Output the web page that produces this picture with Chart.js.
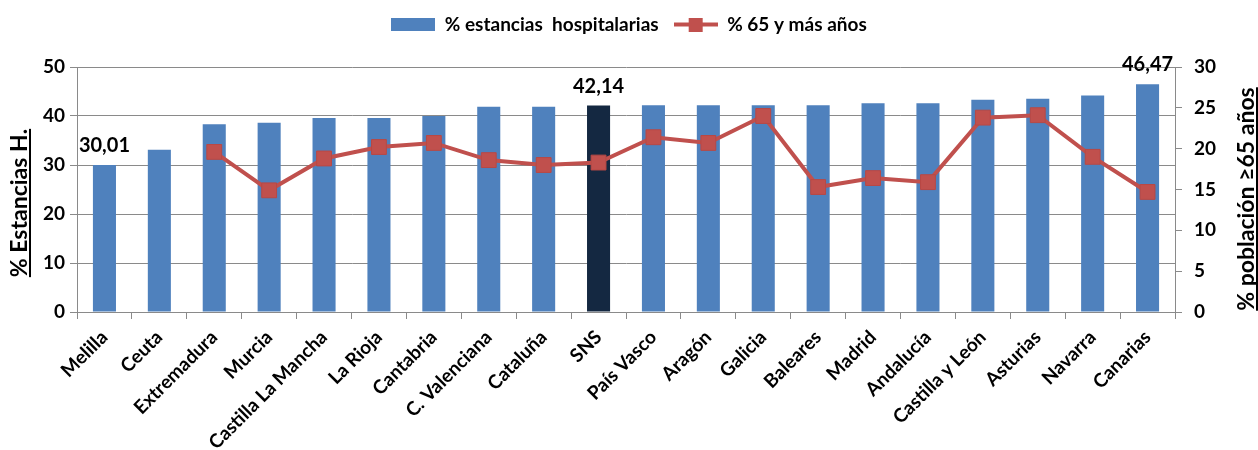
<!DOCTYPE html>
<html lang="es">
<head>
<meta charset="utf-8">
<title>Estancias hospitalarias y población de 65 y más años</title>
<script src="https://cdn.jsdelivr.net/npm/chart.js@4"></script>
<style>
  html, body { margin: 0; padding: 0; background: #fff; }
  #wrap { width: 1258px; height: 450px; position: relative; }
</style>
</head>
<body>
<div id="wrap"><canvas id="estanciasChart"></canvas></div>
<script>
// categorías (CCAA ordenadas por % estancias)
const categorias = [
    'Melilla', 'Ceuta', 'Extremadura', 'Murcia', 'Castilla La Mancha', 'La Rioja',
    'Cantabria', 'C. Valenciana', 'Cataluña', 'SNS', 'País Vasco', 'Aragón',
    'Galicia', 'Baleares', 'Madrid', 'Andalucía', 'Castilla y León', 'Asturias',
    'Navarra', 'Canarias'
];

// % estancias hospitalarias (eje izquierdo)
const estancias = [
    30.01, 33.1, 38.3, 38.6, 39.6, 39.6, 40.0, 41.9, 41.9, 42.14,
    42.2, 42.2, 42.2, 42.2, 42.6, 42.6, 43.3, 43.5, 44.2, 46.47
];

// % 65 y más años (eje derecho), sin dato para Melilla y Ceuta
const mayores65 = [
    null, null, 19.6, 14.9, 18.8, 20.2, 20.7, 18.6, 18.0, 18.3,
    21.4, 20.7, 24.0, 15.3, 16.4, 15.9, 23.8, 24.1, 19.0, 14.7
];

// barras con etiqueta de valor
const indicesEtiqueta = [0, 9, 19];

// ticks de los ejes
const ticksIzq = [0, 10, 20, 30, 40, 50];
const ticksDer = [0, 5, 10, 15, 20, 25, 30];

const AZUL = '#4F81BD';
const AZUL_SNS = '#142841';
const ROJO = '#C0504D';
const GRIS = '#8A8A8A';
const FUENTE = 'Lato, "DejaVu Sans", sans-serif';

const coloresBarras = categorias.map(c => c === 'SNS' ? AZUL_SNS : AZUL);

// iconos de la leyenda
function iconoBarra() {
    const c = document.createElement('canvas');
    c.width = 44; c.height = 13;
    const ctx = c.getContext('2d');
    ctx.fillStyle = AZUL;
    ctx.fillRect(0, 0, 44, 13);
    return c;
}
function iconoLinea() {
    const c = document.createElement('canvas');
    c.width = 44; c.height = 14;
    const ctx = c.getContext('2d');
    ctx.fillStyle = ROJO;
    ctx.fillRect(0, 5, 44, 4);
    ctx.fillRect(15, 0, 14, 14);
    return c;
}

// más espacio bajo la leyenda
const espacioLeyenda = {
    id: 'espacioLeyenda',
    beforeInit(chart) {
        const fitOriginal = chart.legend.fit;
        chart.legend.fit = function () {
            fitOriginal.bind(chart.legend)();
            this.height += 23;
        };
    }
};

// etiquetas de valor sobre algunas barras
const etiquetasPlugin = {
    id: 'etiquetas',
    afterDatasetsDraw(chart) {
        const meta = chart.getDatasetMeta(0);
        const ctx = chart.ctx;
        ctx.save();
        ctx.font = 'bold 20px ' + FUENTE;
        ctx.fillStyle = '#000';
        ctx.textAlign = 'center';
        ctx.textBaseline = 'alphabetic';
        indicesEtiqueta.forEach(i => {
            const el = meta.data[i];
            const txt = estancias[i].toFixed(2).replace('.', ',');
            ctx.fillText(txt, el.x, el.y - 13);
        });
        ctx.restore();
    }
};

// títulos de ejes subrayados
const titulosPlugin = {
    id: 'titulos',
    afterDraw(chart) {
        const ctx = chart.ctx;
        const dibujar = (texto, x, y) => {
            ctx.save();
            ctx.translate(x, y);
            ctx.rotate(-Math.PI / 2);
            ctx.font = 'bold 23px ' + FUENTE;
            ctx.fillStyle = '#000';
            ctx.textAlign = 'center';
            ctx.textBaseline = 'alphabetic';
            ctx.fillText(texto, 0, 0);
            const w = ctx.measureText(texto).width;
            ctx.fillRect(-w / 2, 2, w, 2);
            ctx.restore();
        };
        dibujar('% Estancias H.', 27, 203);
        dibujar('% población ≥65 años', 1254, 199);
    }
};

const ctx = document.getElementById('estanciasChart');

new Chart(ctx, {
    type: 'bar',
    data: {
        labels: categorias,
        datasets: [{
            type: 'bar',
            label: '% estancias  hospitalarias',
            data: estancias,
            backgroundColor: coloresBarras,
            barPercentage: 0.42,
            categoryPercentage: 1,
            yAxisID: 'y',
            order: 1
        }, {
            type: 'line',
            label: '% 65 y más años',
            data: mayores65,
            borderColor: ROJO,
            backgroundColor: ROJO,
            borderWidth: 4,
            pointStyle: 'rect',
            pointRadius: 10.5,
            pointBorderWidth: 1,
            pointBorderColor: '#B84845',
            pointBackgroundColor: ROJO,
            yAxisID: 'y1',
            order: 0
        }]
    },
    options: {
        responsive: true,
        maintainAspectRatio: false,
        animation: false,
        layout: { padding: 0 },
        plugins: {
            tooltip: { enabled: false },
            legend: {
                position: 'top',
                align: 'center',
                labels: {
                    usePointStyle: true,
                    pointStyleWidth: 44,
                    boxHeight: 14,
                    padding: 15,
                    color: '#000',
                    font: { family: FUENTE, size: 19, weight: 'bold' },
                    sort: (a, b) => a.datasetIndex - b.datasetIndex,
                    generateLabels(chart) {
                        return chart.data.datasets.map((ds, i) => ({
                            text: ds.label,
                            pointStyle: i === 0 ? iconoBarra() : iconoLinea(),
                            fillStyle: i === 0 ? AZUL : ROJO,
                            strokeStyle: 'transparent',
                            lineWidth: 0,
                            hidden: false,
                            datasetIndex: i,
                            fontColor: '#000'
                        }));
                    }
                }
            }
        },
        scales: {
            x: {
                grid: {
                    offset: true,
                    drawOnChartArea: false,
                    color: GRIS,
                    tickLength: 7
                },
                border: { color: GRIS, width: 1 },
                ticks: {
                    autoSkip: false,
                    maxRotation: 45,
                    minRotation: 45,
                    color: '#000',
                    padding: 7,
                    font: { family: FUENTE, size: 19, weight: 'bold' }
                },
                afterFit(scale) { scale.height = 138; }
            },
            y: {
                position: 'left',
                min: 0,
                max: 50,
                afterBuildTicks(scale) { scale.ticks = ticksIzq.map(v => ({ value: v })); },
                grid: { color: GRIS, tickLength: 7 },
                border: { color: GRIS, width: 1 },
                ticks: {
                    color: '#000',
                    padding: 5,
                    font: { family: FUENTE, size: 19, weight: 'bold' }
                },
                afterFit(scale) { scale.width = 77; }
            },
            y1: {
                position: 'right',
                min: 0,
                max: 30,
                afterBuildTicks(scale) { scale.ticks = ticksDer.map(v => ({ value: v })); },
                grid: { drawOnChartArea: false, color: GRIS, tickLength: 7 },
                border: { color: GRIS, width: 1 },
                ticks: {
                    color: '#000',
                    padding: 12,
                    font: { family: FUENTE, size: 19, weight: 'bold' }
                },
                afterFit(scale) { scale.width = 83; }
            }
        }
    },
    plugins: [espacioLeyenda, etiquetasPlugin, titulosPlugin]
});
</script>
</body>
</html>
